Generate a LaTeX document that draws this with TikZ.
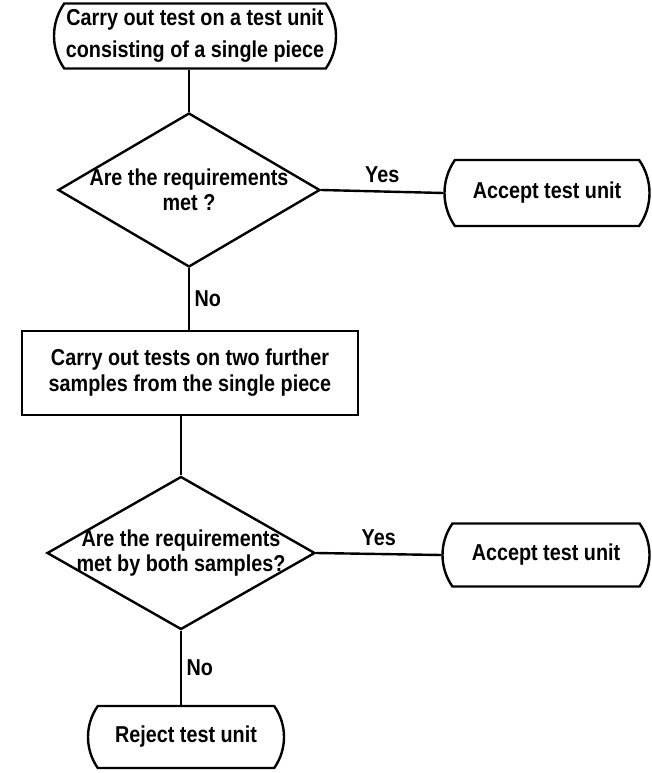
\documentclass[tikz,border=0pt]{standalone}
\usepackage{fontspec}
\setmainfont{Liberation Sans}[FakeStretch=0.86]
\usetikzlibrary{shapes.geometric,shapes.misc,positioning}

\tikzset{
  terminal/.style={draw, line width=2.4pt, rounded rectangle, rounded rectangle arc length=70,
    align=center, inner sep=0pt},
  process/.style={draw, line width=2.4pt, rectangle, align=center, inner sep=0pt},
  decision/.style={draw, line width=2.4pt, diamond, inner sep=0pt},
  dtext/.style={align=center, inner sep=0pt, font=\bfseries\fontsize{23}{25}\selectfont},
  link/.style={line width=2.4pt},
  lbl/.style={font=\bfseries\fontsize{23}{25}\selectfont}
}

\begin{document}
\begin{tikzpicture}[x=1pt, y=-1pt, font=\bfseries\fontsize{23}{32}\selectfont]
\useasboundingbox (0,0) rectangle (652,773);

% boxes
\node[terminal, minimum width=282pt, minimum height=65pt] (start) at (195,36)
  {Carry out test on a test unit\\consisting of a single piece};
\node[decision, minimum width=262pt, minimum height=154pt] (q1) at (189,190) {};
\node[dtext] (q1t) at (q1) {Are the requirements\\met ?};
\node[terminal, minimum width=205pt, minimum height=66pt] (acc1) at (547,193) {Accept test unit};
\node[process, minimum width=336pt, minimum height=84pt, font=\bfseries\fontsize{23}{26}\selectfont]
  (retest) at (190,373)
  {Carry out tests on two further\\samples from the single piece};
\node[decision, minimum width=268pt, minimum height=153pt] (q2) at (181,553) {};
\node[dtext] (q2t) at (q2) {Are the requirements\\met by both samples?};
\node[terminal, minimum width=207pt, minimum height=63pt] (acc2) at (546,555) {Accept test unit};
\node[terminal, minimum width=196pt, minimum height=62pt] (rej) at (186,737) {Reject test unit};

% connectors
\draw[link] (q1.north |- start.south) -- (q1.north);
\draw[link] (q1.east) -- node[lbl, above=4pt] {Yes} (acc1.west);
\draw[link] (q1.south) -- node[lbl, right=1pt] {No} (q1.south |- retest.north);
\draw[link] (q2.north |- retest.south) -- (q2.north);
\draw[link] (q2.east) -- node[lbl, above=4pt] {Yes} (acc2.west);
\draw[link] (q2.south) -- node[lbl, right=1pt] {No} (q2.south |- rej.north);
\end{tikzpicture}
\end{document}
